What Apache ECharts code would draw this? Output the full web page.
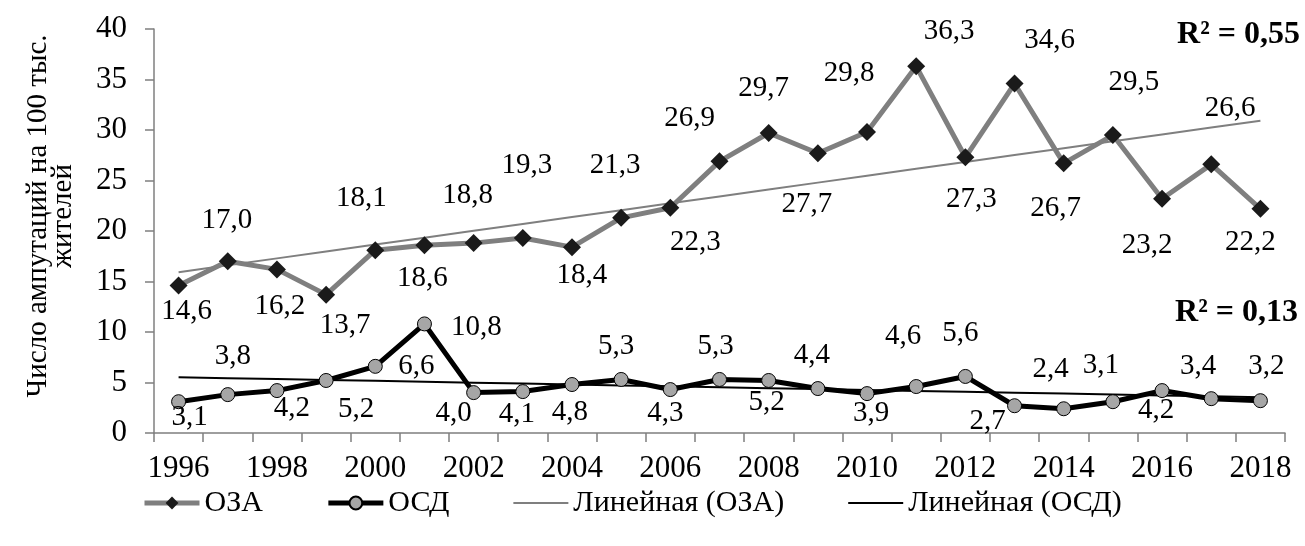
<!DOCTYPE html>
<html>
<head>
<meta charset="utf-8">
<script src="https://cdn.jsdelivr.net/npm/echarts@6/dist/echarts.min.js"></script>
<style>
  html, body { margin: 0; padding: 0; background: #fff; }
  #chart { width: 1305px; height: 546px; }
</style>
</head>
<body>
<div id="chart"></div>
<script>
// Years on the category axis
const years = ['1996','1997','1998','1999','2000','2001','2002','2003','2004','2005','2006',
               '2007','2008','2009','2010','2011','2012','2013','2014','2015','2016','2017','2018'];

// Amputations per 100 thousand inhabitants
const oza = [14.6, 17.0, 16.2, 13.7, 18.1, 18.6, 18.8, 19.3, 18.4, 21.3, 22.3,
             26.9, 29.7, 27.7, 29.8, 36.3, 27.3, 34.6, 26.7, 29.5, 23.2, 26.6, 22.2];
const osd = [3.1, 3.8, 4.2, 5.2, 6.6, 10.8, 4.0, 4.1, 4.8, 5.3, 4.3,
             5.3, 5.2, 4.4, 3.9, 4.6, 5.6, 2.7, 2.4, 3.1, 4.2, 3.4, 3.2];

// Coefficients of determination of the linear trends
const r2Oza = 'R² = 0,55';
const r2Osd = 'R² = 0,13';

// Value-label placement relative to each marker, [dx, dy] in px
const ozaLabelOffsets = [[8,26],[-1,-41],[3,37],[19,31],[-14,-52],[-2,33],[-6,-48],[4,-73],
  [10,28],[-6,-52],[25,35],[-30,-43],[-5,-45],[-11,51],[-18,-59],[33,-35],[6,42],[35,-43],
  [-8,45],[21,-53],[-15,47],[19,-56],[-10,34]];
const osdLabelOffsets = [[11,16],[5,-38],[15,18],[30,29],[41,0],[52,3],[-20,21],[-6,23],
  [-2,28],[-5,-33],[-5,24],[-4,-33],[-2,22],[-6,-33],[4,20],[-13,-50],[-5,-43],[-27,16],
  [-13,-39],[-12,-36],[-6,20],[-13,-32],[6,-34]];

// Least-squares straight line through the series, evaluated at each category
function linearTrend(values) {
  const n = values.length;
  let sx = 0, sy = 0, sxx = 0, sxy = 0;
  values.forEach((y, x) => { sx += x; sy += y; sxx += x * x; sxy += x * y; });
  const slope = (n * sxy - sx * sy) / (n * sxx - sx * sx);
  const icpt = (sy - slope * sx) / n;
  return values.map((_, x) => +(icpt + slope * x).toFixed(4));
}

const FONT = 'Liberation Serif';
const fmt = p => p.value.toFixed(1).replace('.', ',');

const withLabels = (vals, offs) => vals.map((v, i) => ({ value: v, label: { offset: offs[i] } }));

const chart = echarts.init(document.getElementById('chart'), null, { renderer: 'canvas' });

chart.setOption({
  animation: false,
  backgroundColor: '#ffffff',
  textStyle: { fontFamily: FONT, color: '#000' },
  grid: { left: 154, right: 20, top: 29, bottom: 113 },
  legend: {
    left: 137,
    top: 483,
    itemWidth: 55,
    itemHeight: 16,
    itemGap: 63,
    textStyle: { fontFamily: FONT, fontSize: 30, color: '#000' },
    data: [
      { name: 'ОЗА', lineStyle: { width: 5, color: '#7f7f7f' } },
      { name: 'ОСД', lineStyle: { width: 5, color: '#000000' } },
      { name: 'Линейная (ОЗА)', itemStyle: { opacity: 0 }, lineStyle: { width: 2, color: '#7f7f7f' } },
      { name: 'Линейная (ОСД)', itemStyle: { opacity: 0 }, lineStyle: { width: 2, color: '#000000' } }
    ]
  },
  xAxis: {
    type: 'category',
    data: years,
    boundaryGap: true,
    axisLine: { lineStyle: { color: '#7f7f7f', width: 1.5 } },
    axisTick: { show: true, interval: 0, length: 9, lineStyle: { color: '#7f7f7f', width: 1.5 } },
    axisLabel: { interval: 1, margin: 20, fontFamily: FONT, fontSize: 31, color: '#000' }
  },
  yAxis: {
    type: 'value',
    min: 0,
    max: 40,
    interval: 5,
    splitLine: { show: false },
    axisLine: { show: true, lineStyle: { color: '#7f7f7f', width: 1.5 } },
    axisTick: { show: true, length: 9, lineStyle: { color: '#7f7f7f', width: 1.5 } },
    axisLabel: { margin: 27, fontFamily: FONT, fontSize: 31, color: '#000' }
  },
  graphic: [
    {
      type: 'text',
      x: 51, y: 216,
      rotation: Math.PI / 2,
      style: {
        text: 'Число ампутаций на 100 тыс.\nжителей',
        fontFamily: FONT,
        fontSize: 29,
        fill: '#000',
        align: 'center',
        verticalAlign: 'middle',
        lineHeight: 25
      }
    },
    {
      type: 'text', x: 1300, y: 35,
      style: { text: r2Oza, fontFamily: FONT, fontSize: 32, fontWeight: 'bold', fill: '#000', align: 'right', verticalAlign: 'middle' }
    },
    {
      type: 'text', x: 1298, y: 313,
      style: { text: r2Osd, fontFamily: FONT, fontSize: 32, fontWeight: 'bold', fill: '#000', align: 'right', verticalAlign: 'middle' }
    }
  ],
  series: [
    {
      name: 'Линейная (ОЗА)',
      type: 'line',
      z: 1,
      data: linearTrend(oza),
      symbol: 'none',
      silent: true,
      lineStyle: { color: '#7f7f7f', width: 2 },
      itemStyle: { color: '#7f7f7f' }
    },
    {
      name: 'Линейная (ОСД)',
      type: 'line',
      z: 1,
      data: linearTrend(osd),
      symbol: 'none',
      silent: true,
      lineStyle: { color: '#000000', width: 2 },
      itemStyle: { color: '#000000' }
    },
    {
      name: 'ОЗА',
      type: 'line',
      z: 3,
      data: withLabels(oza, ozaLabelOffsets),
      symbol: 'diamond',
      symbolSize: 18,
      lineStyle: { color: '#7f7f7f', width: 5 },
      itemStyle: { color: '#1a1a1a', borderColor: '#1a1a1a', borderWidth: 0 },
      label: { show: true, position: 'inside', formatter: fmt, fontFamily: FONT, fontSize: 29, color: '#000' }
    },
    {
      name: 'ОСД',
      type: 'line',
      z: 3,
      data: withLabels(osd, osdLabelOffsets),
      symbol: 'circle',
      symbolSize: 14,
      lineStyle: { color: '#000000', width: 5 },
      itemStyle: { color: '#a6a6a6', borderColor: '#000000', borderWidth: 1 },
      label: { show: true, position: 'inside', formatter: fmt, fontFamily: FONT, fontSize: 29, color: '#000' }
    }
  ]
});
</script>
</body>
</html>
